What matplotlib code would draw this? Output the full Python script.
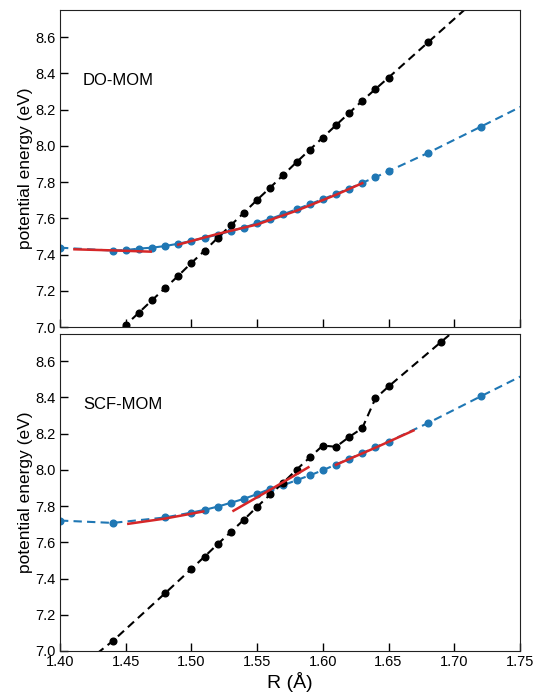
import matplotlib
matplotlib.use("Agg")
from matplotlib import pyplot as plt

plt.rcParams['font.family'] = ['Liberation Sans', 'DejaVu Sans']

# DO-MOM scan
do_r_black = [1.44, 1.45, 1.46, 1.47, 1.48, 1.49, 1.50, 1.51, 1.52, 1.53, 1.54, 1.55, 1.56, 1.57,
              1.58, 1.59, 1.60, 1.61, 1.62, 1.63, 1.64, 1.65, 1.68, 1.72]
do_e_black = [6.94, 7.011, 7.079, 7.148, 7.215, 7.283, 7.354, 7.421, 7.492, 7.562, 7.631, 7.702, 7.770, 7.840,
              7.910, 7.978, 8.046, 8.114, 8.181, 8.249, 8.313, 8.377, 8.571, 8.83]
do_r_blue = [1.40, 1.44, 1.45, 1.46, 1.47, 1.48, 1.49, 1.50, 1.51, 1.52, 1.53, 1.54, 1.55, 1.56, 1.57,
             1.58, 1.59, 1.60, 1.61, 1.62, 1.63, 1.64, 1.65, 1.68, 1.72, 1.76]
do_e_blue = [7.438, 7.422, 7.425, 7.433, 7.438, 7.447, 7.460, 7.475, 7.493, 7.510, 7.530, 7.549, 7.573, 7.597, 7.623,
             7.650, 7.678, 7.706, 7.735, 7.764, 7.796, 7.827, 7.860, 7.961, 8.105, 8.25]
do_fits = [
    ([1.411, 1.44, 1.469], [7.429, 7.423, 7.416]),
    ([1.49, 1.52, 1.55, 1.58, 1.61, 1.63], [7.455, 7.514, 7.566, 7.642, 7.730, 7.794]),
]

# SCF-MOM scan
scf_r_black = [1.42, 1.44, 1.48, 1.50, 1.51, 1.52, 1.53, 1.54, 1.55, 1.56, 1.57,
               1.58, 1.59, 1.60, 1.61, 1.62, 1.63, 1.64, 1.65, 1.69, 1.72]
scf_e_black = [6.94, 7.054, 7.319, 7.453, 7.521, 7.590, 7.657, 7.725, 7.796, 7.864, 7.930,
               8.001, 8.068, 8.134, 8.127, 8.181, 8.230, 8.394, 8.460, 8.706, 8.89]
scf_r_blue = [1.40, 1.44, 1.48, 1.50, 1.51, 1.52, 1.53, 1.54, 1.55, 1.56, 1.57,
              1.58, 1.59, 1.60, 1.61, 1.62, 1.63, 1.64, 1.65, 1.68, 1.72, 1.76]
scf_e_blue = [7.720, 7.707, 7.737, 7.764, 7.779, 7.797, 7.818, 7.840, 7.866, 7.895, 7.915,
              7.943, 7.969, 7.998, 8.029, 8.061, 8.092, 8.125, 8.156, 8.258, 8.405, 8.55]
scf_fits = [
    ([1.452, 1.48, 1.509], [7.702, 7.731, 7.770]),
    ([1.532, 1.56, 1.589], [7.774, 7.890, 8.014]),
    ([1.61, 1.64, 1.669], [8.028, 8.122, 8.217]),
]

x_ticks = [1.40, 1.45, 1.50, 1.55, 1.60, 1.65, 1.70, 1.75]
y_ticks = [7.0, 7.2, 7.4, 7.6, 7.8, 8.0, 8.2, 8.4, 8.6]

fig = plt.figure(figsize=(5.38, 6.97), dpi=100)
ax1 = fig.add_axes([0.1115, 0.5308, 0.855, 0.4549])
ax2 = fig.add_axes([0.1115, 0.066, 0.855, 0.4549])

panels = [
    (ax1, "DO-MOM", do_r_black, do_e_black, do_r_blue, do_e_blue, do_fits),
    (ax2, "SCF-MOM", scf_r_black, scf_e_black, scf_r_blue, scf_e_blue, scf_fits),
]

for ax, name, rb, eb, rc, ec, fits in panels:
    ax.plot(rc, ec, '--o', color='#1f77b4', ms=4.8, lw=1.5, dashes=(4, 2.5))
    ax.plot(rb, eb, '--o', color='black', ms=4.8, lw=1.5, dashes=(4, 2.5))
    for fx, fy in fits:
        ax.plot(fx, fy, '-', color='#d62728', lw=1.8)
    ax.text(0.05, 0.776, name, transform=ax.transAxes, fontsize=12, va='center')
    ax.set_xlim(1.40, 1.75)
    ax.set_ylim(7.0, 8.75)
    ax.set_xticks(x_ticks)
    ax.set_yticks(y_ticks)
    ax.tick_params(direction='in', length=6, width=1, labelsize=10.5, pad=3)
    ax.set_ylabel("potential energy (eV)", fontsize=12.5, labelpad=2)
    for s in ax.spines.values():
        s.set_color('#222222')

ax1.set_xticklabels([])
ax2.set_xticklabels(["%.2f" % t for t in x_ticks])
ax2.set_xlabel("R (Å)", fontsize=14, labelpad=2)

fig.savefig("out.png", dpi=100)
